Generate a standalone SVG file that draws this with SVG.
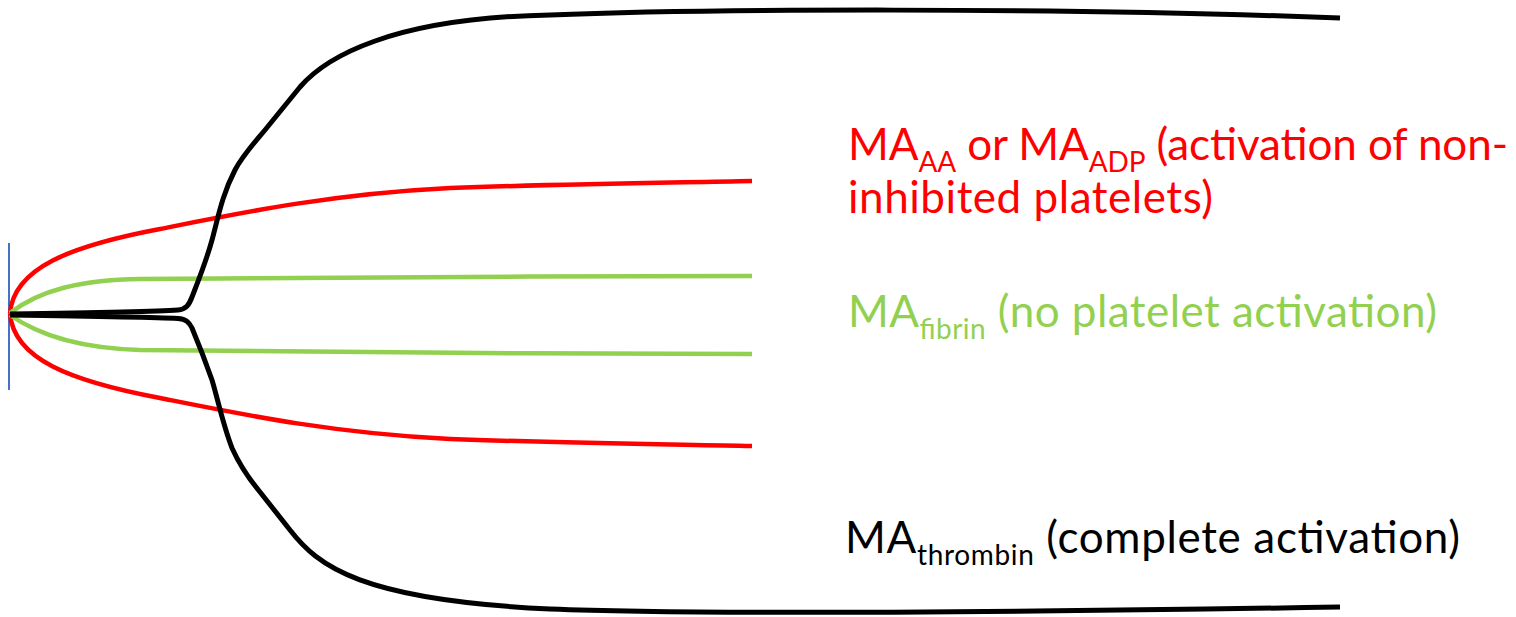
<svg xmlns="http://www.w3.org/2000/svg" width="1516" height="617" viewBox="0 0 1516 617">
<style>
.c{fill:none;stroke-linecap:butt;stroke-linejoin:round}
.k{stroke:#000;stroke-width:5}
.r{stroke:#FF0000;stroke-width:4.5}
.g{stroke:#92D050;stroke-width:4.5}
.t{font-family:Lato,"Open Sans","Liberation Sans",sans-serif;font-size:44px}
.s{font-size:28px}
</style>
<rect width="1516" height="617" fill="#fff"/>
<g id="axis">
<line x1="9" y1="243" x2="9" y2="390" stroke="#4472C4" stroke-width="2"/>
</g>
<g id="curves">
<path id="red-upper" class="c r" d="M10,313 C14,268 70,246 160,229 C240,213 330,194 450,188 C560,184 650,183 752,181"/>
<path id="red-lower" class="c r" d="M10,314 C14,359 70,381 160,398 C240,414 330,433 450,439 C560,443 650,444 752,446"/>
<path id="green-upper" class="c g" d="M10,313 C40,290 80,280 140,279 C300,278 550,276 752,276"/>
<path id="green-lower" class="c g" d="M10,315 C40,336 80,348 140,350 C300,352 550,354 752,354"/>
<path id="black-upper" class="c k" d="M10,314 C80,313 150,312 178,310 C186,309.4 189,305 192,297 C197,284 206,262 212,240 C218,218 222,195 235,170 C243,155 255,142 265,130 L300,87 C325,58 390,18 550,15 C700,9 1050,7 1340,18"/>
<path id="black-lower" class="c k" d="M10,315 C80,316 150,317 178,318.5 C186,319 189,322 192,328 C197,340 205,360 212,380 C218,400 223,425 232,448 C240,466 250,480 260,492 L290,530 C318,566 360,600 550,609 C700,615 1050,612 1340,607"/>
</g>
<g id="label-aa-adp" class="t" fill="#FF0000">
<text x="848" y="160" textLength="660">MA<tspan class="s" dy="11.5">AA</tspan><tspan dy="-11.5"> or MA</tspan><tspan class="s" dy="11.5">ADP</tspan><tspan dy="-11.5"> (activation of non-</tspan></text>
<text x="848" y="213" textLength="365">inhibited platelets)</text>
</g>
<g id="label-fibrin" class="t" fill="#92D050">
<text x="848" y="327" textLength="589">MA<tspan class="s" dy="11.5">fibrin</tspan><tspan dy="-11.5"> (no platelet activation)</tspan></text>
</g>
<g id="label-thrombin" class="t" fill="#000">
<text x="845" y="553" textLength="615">MA<tspan class="s" dy="11.5">thrombin</tspan><tspan dy="-11.5"> (complete activation)</tspan></text>
</g>
</svg>
